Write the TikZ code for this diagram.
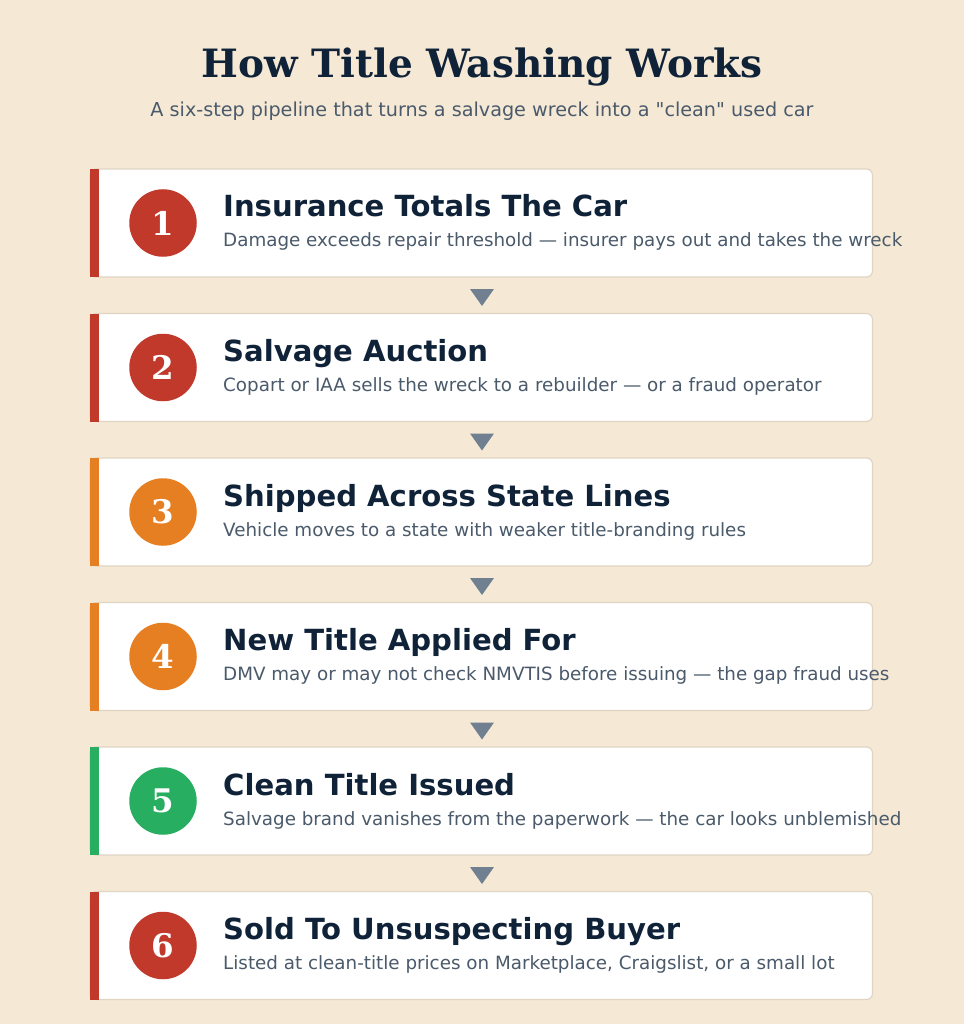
\documentclass[tikz,border=0pt]{standalone}
\usepackage{fontspec}
\setmainfont{DejaVu Sans}[Ligatures=TeXOff]
\newfontfamily\serifbold{DejaVu Serif}
\usetikzlibrary{calc}
\definecolor{bgc}{HTML}{F5E9D6}
\definecolor{navy}{HTML}{0F2238}
\definecolor{subgray}{HTML}{4A5A6B}
\definecolor{cardline}{HTML}{E0D5C3}
\definecolor{redc}{HTML}{C0392B}
\definecolor{orangec}{HTML}{E67E22}
\definecolor{greenc}{HTML}{27AE60}
\definecolor{arrowc}{HTML}{708090}
\tikzset{
  cardbox/.style={draw=cardline, line width=1.2pt, fill=white, rounded corners=6pt},
  numcircle/.style={circle, minimum size=67.5pt, inner sep=0pt, text=white,
    font=\serifbold\bfseries\fontsize{32.5}{36}\selectfont},
  steptitle/.style={anchor=base west, inner sep=0pt, text=navy,
    font=\bfseries\fontsize{29.1}{33}\selectfont},
  stepdesc/.style={anchor=base west, inner sep=0pt, text=subgray,
    font=\fontsize{18.3}{21}\selectfont},
  downtri/.style={fill=arrowc},
}
\begin{document}
\begin{tikzpicture}[x=1pt,y=-1pt]
\fill[bgc] (0,0) rectangle (964,1024);
\useasboundingbox (0,0) rectangle (964,1024);
\node[anchor=base, inner sep=0pt, text=navy, font=\serifbold\bfseries\fontsize{39}{46}\selectfont] (title) at (482,78) {How Title Washing Works};
\node[anchor=base, inner sep=0pt, text=subgray, font=\fontsize{19.2}{22}\selectfont] (subtitle) at (482,117) {A six-step pipeline that turns a salvage wreck into a "clean" used car};
\foreach \i/\col/\ttl/\dsc in {
  1/redc/Insurance Totals The Car/Damage exceeds repair threshold — insurer pays out and takes the wreck,
  2/redc/Salvage Auction/Copart or IAA sells the wreck to a rebuilder — or a fraud operator,
  3/orangec/Shipped Across State Lines/Vehicle moves to a state with weaker title-branding rules,
  4/orangec/New Title Applied For/DMV may or may not check NMVTIS before issuing — the gap fraud uses,
  5/greenc/Clean Title Issued/Salvage brand vanishes from the paperwork — the car looks unblemished,
  6/redc/Sold To Unsuspecting Buyer/Listed at clean-title prices on Marketplace{,} Craigslist{,} or a small lot}{
  \pgfmathsetmacro{\T}{169+144.5*(\i-1)}
  \draw[cardbox] (90,\T) rectangle (872.5,\T+108);
  \coordinate (card\i) at (481,\T+54);
  \fill[\col] (90,\T) rectangle (98.5,\T+108);
  \node[numcircle, fill=\col] (num\i) at (163,\T+54) {\i};
  \node[steptitle] (ttl\i) at (223,\T+48) {\ttl};
  \node[stepdesc] (dsc\i) at (223,\T+78) {\dsc};
}
\foreach \i in {1,...,5}{
  \pgfmathsetmacro{\T}{169+144.5*(\i-1)}
  \fill[downtri] (470,\T+120) -- (494,\T+120) -- (482,\T+137) -- cycle;
}
\end{tikzpicture}
\end{document}
